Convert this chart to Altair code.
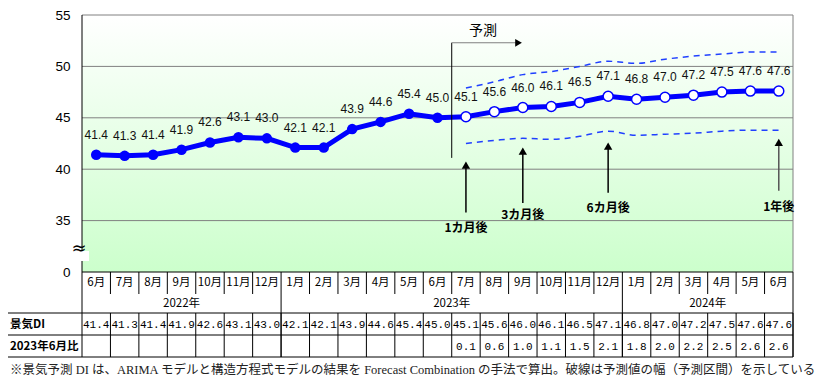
import altair as alt
import pandas as pd

# ---------------- data ----------------
months = ["6月", "7月", "8月", "9月", "10月", "11月", "12月",
          "1月", "2月", "3月", "4月", "5月", "6月", "7月", "8月", "9月", "10月", "11月", "12月",
          "1月", "2月", "3月", "4月", "5月", "6月"]
years = ["2022年", "2023年", "2024年"]
year_centers = [3, 12.5, 21.5]
di = [41.4, 41.3, 41.4, 41.9, 42.6, 43.1, 43.0, 42.1, 42.1, 43.9, 44.6, 45.4, 45.0,
      45.1, 45.6, 46.0, 46.1, 46.5, 47.1, 46.8, 47.0, 47.2, 47.5, 47.6, 47.6]
diff = [None] * 13 + [0.1, 0.6, 1.0, 1.1, 1.5, 2.1, 1.8, 2.0, 2.2, 2.5, 2.6, 2.6]
n_actual = 13
upper = [47.9, 48.5, 49.2, 49.5, 50.0, 50.5, 50.3, 50.7, 51.0, 51.2, 51.4, 51.4]
lower = [42.5, 42.8, 43.0, 42.9, 43.2, 43.7, 43.3, 43.4, 43.5, 43.7, 43.8, 43.8]
grid_values = [35, 40, 45, 50, 55]
axis_values = [30, 35, 40, 45, 50, 55]

arrow_idx = [13, 15, 18, 24]
arrow_base = [35.8, 36.7, 37.7, 37.9]
arrow_tip = [40.85, 42.2, 42.7, 43.05]
arrow_text = ["1カ月後", "3カ月後", "6カ月後", "1年後"]
arrow_text_v = [34.3, 35.5, 36.2, 36.3]
arrow_color = ["#000000", "#000000", "#000000", "#555555"]

footnote = ("※景気予測 DI は、ARIMA モデルと構造方程式モデルの結果を Forecast Combination "
            "の手法で算出。破線は予測値の幅（予測区間）を示している")

W, H = 711, 257
BLUE = "#0000ff"
JP = "Noto Sans CJK JP"

# ---------------- tables ----------------
df = pd.DataFrame({
    "i": list(range(len(di))),
    "v": di,
    "month": months,
    "lbl": [f"{x:.1f}" for x in di],
    "kind": ["actual"] * n_actual + ["forecast"] * (len(di) - n_actual),
    "diff": ["" if d is None else f"{d:.1f}" for d in diff],
})
band = pd.DataFrame({
    "i": list(range(n_actual, len(di))) * 2,
    "v": upper + lower,
    "which": ["upper"] * len(upper) + ["lower"] * len(lower),
})
grid_df = pd.DataFrame({"v": grid_values})
axis_df = pd.DataFrame({"v": axis_values})
years_df = pd.DataFrame({"i": year_centers, "t": years})
arrows = pd.DataFrame({"i": arrow_idx, "v": arrow_base, "v2": arrow_tip,
                       "head": [t - 0.45 for t in arrow_tip],
                       "t": arrow_text, "tv": arrow_text_v, "c": arrow_color})
bounds = [b + 0.5 for b in range(len(di) - 1)]
year_bounds = [6.5, 18.5]
inner_bounds = pd.DataFrame({"i": [b for b in bounds if b not in year_bounds]})
full_bounds = pd.DataFrame({"i": year_bounds + [24.5]})
all_bounds = pd.DataFrame({"i": bounds + [24.5]})
pred_v = pd.DataFrame({"i": [12.5], "v": [52.3], "v2": [41.1]})
pred_h = pd.DataFrame({"i": [12.5], "i2": [14.8], "v": [52.3]})
pred_head = pd.DataFrame({"i": [14.85], "v": [52.3]})
pred_text = pd.DataFrame({"i": [13.6], "v": [53.45], "t": ["予測"]})
one = pd.DataFrame({"a": [0]})

xs = alt.Scale(domain=[-0.5, 24.5], nice=False, zero=False)
ys = alt.Scale(domain=[30, 55], nice=False, zero=False)
X = alt.X("i:Q", scale=xs, axis=None, title=None)
Y = alt.Y("v:Q", scale=ys, title=None)

# ---------------- layers ----------------
bg = alt.Chart(one).mark_rect(
    fill=alt.LinearGradient(gradient="linear",
                            stops=[alt.GradientStop(color="#ffffff", offset=0),
                                   alt.GradientStop(color="#ccffcc", offset=1)],
                            x1=0, x2=0, y1=0, y2=1)
).encode(x=alt.value(0), x2=alt.value(W), y=alt.value(0), y2=alt.value(H))

axis_layer = alt.Chart(axis_df).mark_rule(opacity=0).encode(
    y=alt.Y("v:Q", scale=ys, title=None,
            axis=alt.Axis(values=axis_values, grid=False, domain=False, ticks=False,
                          labelPadding=12, labelFontSize=13.5, labelFont="Liberation Sans",
                          labelColor="#000000",
                          labelExpr="datum.value == 30 ? '0' : datum.label"))
)

grid = alt.Chart(grid_df).mark_rule(color="#808080", strokeWidth=1).encode(y=Y)
right_border = alt.Chart(one).mark_rule(color="#808080").encode(
    x=alt.value(W), y=alt.value(0), y2=alt.value(H))
left_line = alt.Chart(one).mark_rule(color="#000000").encode(
    x=alt.value(0), y=alt.value(0), y2=alt.value(342))
bottom_line = alt.Chart(one).mark_rule(color="#000000").encode(
    x=alt.value(0), x2=alt.value(W), y=alt.value(H))

brk_patch = alt.Chart(one).mark_rect(color="#ffffff").encode(
    x=alt.value(-1), x2=alt.value(7), y=alt.value(236), y2=alt.value(246))
brk = alt.Chart(one).mark_text(text="≈", fontSize=18, color="#000000",
                               font="DejaVu Sans").encode(x=alt.value(-3), y=alt.value(234))

bands = alt.Chart(band).mark_line(color="#2040ff", strokeWidth=1.5, strokeDash=[6, 5],
                                  interpolate="monotone").encode(x=X, y=Y, detail="which:N")
line = alt.Chart(df).mark_line(color=BLUE, strokeWidth=5).encode(x=X, y=Y)
pts_a = alt.Chart(df).transform_filter("datum.kind == 'actual'").mark_point(
    filled=True, color=BLUE, size=110, opacity=1).encode(x=X, y=Y)
pts_f = alt.Chart(df).transform_filter("datum.kind == 'forecast'").mark_point(
    filled=True, fill="#ffffff", stroke=BLUE, strokeWidth=1.5, size=100, opacity=1).encode(x=X, y=Y)
labels = alt.Chart(df).mark_text(dy=-20, fontSize=12, font="Liberation Sans",
                                 color="#111111").encode(x=X, y=Y, text="lbl:N")

# forecast annotation
pv = alt.Chart(pred_v).mark_rule(color="#000000").encode(x=X, y=Y, y2="v2:Q")
ph = alt.Chart(pred_h).mark_rule(color="#808080", strokeWidth=1.2).encode(x=X, x2="i2:Q", y=Y)
phd = alt.Chart(pred_head).mark_point(shape="triangle-right", filled=True, color="#000000",
                                      size=60, opacity=1).encode(x=X, y=Y)
pt = alt.Chart(pred_text).mark_text(fontSize=14, font=JP, color="#000000").encode(
    x=X, y=Y, text="t:N")

# month-ahead arrows
ar = alt.Chart(arrows).mark_rule(strokeWidth=1.5).encode(
    x=X, y=Y, y2="head:Q", color=alt.Color("c:N", scale=None))
ah = alt.Chart(arrows).mark_point(shape="triangle-up", filled=True, color="#000000",
                                  size=70, opacity=1).encode(x=X, y=alt.Y("head:Q", scale=ys, title=None))
at = alt.Chart(arrows).mark_text(fontSize=12, fontWeight="bold", font=JP, color="#000000").encode(
    x=X, y=alt.Y("tv:Q", scale=ys, title=None), text="t:N")

# table below
hl = [alt.Chart(one).mark_rule(color="#000000").encode(
    x=alt.value(-75), x2=alt.value(W), y=alt.value(yy)) for yy in (298, 320, 342)]
left_col = alt.Chart(one).mark_rule(color="#000000").encode(
    x=alt.value(-75), y=alt.value(298), y2=alt.value(342))
v_month = alt.Chart(inner_bounds).mark_rule(color="#000000").encode(
    x=X, y=alt.value(H), y2=alt.value(279))
v_full = alt.Chart(full_bounds).mark_rule(color="#000000").encode(
    x=X, y=alt.value(H), y2=alt.value(342))
v_rows = alt.Chart(all_bounds).mark_rule(color="#000000").encode(
    x=X, y=alt.value(298), y2=alt.value(342))

t_month = alt.Chart(df).mark_text(fontSize=11.5, font=JP, color="#000000").encode(
    x=X, y=alt.value(268), text="month:N")
t_year = alt.Chart(years_df).mark_text(fontSize=11.5, font=JP, color="#000000").encode(
    x=X, y=alt.value(288.5), text="t:N")
t_di = alt.Chart(df).mark_text(fontSize=11, font="Liberation Mono", color="#000000").encode(
    x=X, y=alt.value(309.5), text="lbl:N")
t_diff = alt.Chart(df).mark_text(fontSize=11, font="Liberation Mono", color="#000000").encode(
    x=X, y=alt.value(331.5), text="diff:N")
t_h1 = alt.Chart(one).mark_text(text="景気DI", align="left", fontSize=11.5, fontWeight="bold",
                                font=JP, color="#000000").encode(x=alt.value(-72), y=alt.value(309.5))
t_h2 = alt.Chart(one).mark_text(text="2023年6月比", align="left", fontSize=11.5, fontWeight="bold",
                                font=JP, color="#000000").encode(x=alt.value(-72), y=alt.value(331.5))
t_note = alt.Chart(one).mark_text(text=footnote, align="left", fontSize=12.5,
                                  font="Liberation Serif, Noto Sans CJK JP",
                                  color="#222222").encode(x=alt.value(-72), y=alt.value(355))

chart = alt.layer(
    bg, axis_layer, grid, right_border, bottom_line, left_line, brk_patch, brk,
    bands, line, pts_a, pts_f, labels,
    pv, ph, phd, pt, ar, ah, at,
    *hl, left_col, v_month, v_full, v_rows,
    t_month, t_year, t_di, t_diff, t_h1, t_h2, t_note,
).properties(
    width=W, height=H,
    autosize=alt.AutoSizeParams(type="none"),
    padding={"left": 74, "top": 7, "right": 31, "bottom": 104},
).configure_view(stroke=None)

chart.save("out.html", embed_options={"renderer": "svg", "actions": False})
